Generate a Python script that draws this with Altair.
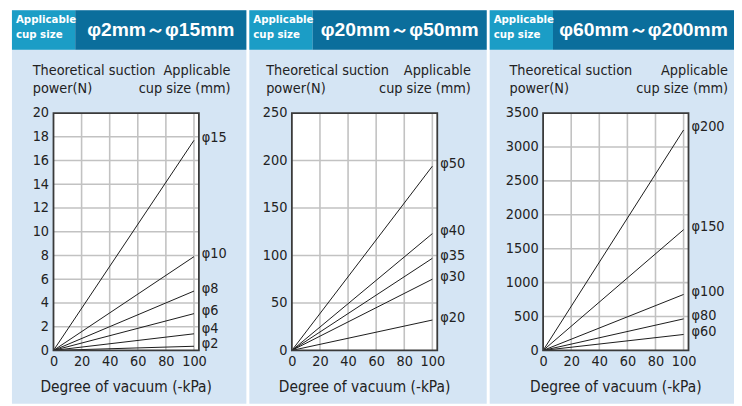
import altair as alt
import pandas as pd

# ---------------- data ----------------
vacuum_start = 0
vacuum_end = 100
vacuum_ticks = [0, 20, 40, 60, 80, 100]

p1_cups = ["φ2", "φ4", "φ6", "φ8", "φ10", "φ15"]
p1_force = [0.35, 1.4, 3.1, 5.0, 7.9, 17.7]
p1_yticks = [0, 2, 4, 6, 8, 10, 12, 14, 16, 18, 20]

p2_cups = ["φ20", "φ30", "φ35", "φ40", "φ50"]
p2_force = [32, 75, 97, 123, 194]
p2_yticks = [0, 50, 100, 150, 200, 250]

p3_cups = ["φ60", "φ80", "φ100", "φ150", "φ200"]
p3_force = [235, 465, 825, 1780, 3250]
p3_yticks = [0, 500, 1000, 1500, 2000, 2500, 3000, 3500]

headers = ["φ2mm～φ15mm", "φ20mm～φ50mm", "φ60mm～φ200mm"]
badge_text = ["Applicable", "cup size"]
ytitle = ["Theoretical suction", "power(N)"]
rtitle = ["Applicable", "cup size (mm)"]
xtitle = "Degree of vacuum (-kPa)"

# ---------------- styling ----------------
FONT = "Liberation Sans Narrow, DejaVu Sans Condensed, sans-serif"
HFONT = "Liberation Sans, Arial, sans-serif"
LIGHT = "#d5e5f4"
TEAL = "#1b9dc6"
DARK = "#0b6e9c"
TXT = "#222222"
W, H = 147, 240
TOP, BOTTOM = -104, 294
HEAD_BOTTOM = -64
TEAL_W = 64
XMAX = 103.5
LABEL_GAP = 15

one = pd.DataFrame({"k": [0]})


def box(x1, x2, y1, y2, color):
    return alt.Chart(one).mark_rect(color=color).encode(
        x=alt.value(x1), x2=alt.value(x2), y=alt.value(y1), y2=alt.value(y2)
    )


def label(txt, x, y, align="left", size=14.5, font=FONT, weight="normal", color=TXT):
    return alt.Chart(one).mark_text(
        text=txt, align=align, baseline="middle", font=font, fontSize=size,
        fontWeight=weight, color=color
    ).encode(x=alt.value(x), y=alt.value(y))


def label_pixels(force, ymax):
    # simple collision avoidance: natural spot just above line end, stacked bottom-up
    nat = [H - f / ymax * H - 2.5 for f in force]
    order = sorted(range(len(force)), key=lambda i: force[i])
    out = nat[:]
    prev = None
    for i in order:
        if prev is not None and out[i] > prev - LABEL_GAP:
            out[i] = prev - LABEL_GAP
        prev = out[i]
    return out


def panel(cups, force, yticks, header, L, R, ytx, rtx):
    ymax = yticks[-1]
    rows = []
    for c, f in zip(cups, force):
        rows.append({"cup": c, "vac": vacuum_start, "force": 0})
        rows.append({"cup": c, "vac": vacuum_end, "force": f})
    lines_df = pd.DataFrame(rows)
    ends_df = pd.DataFrame({"cup": cups, "py": label_pixels(force, ymax)})
    xs = alt.Scale(domain=[0, XMAX], nice=False, zero=True)
    ys = alt.Scale(domain=[0, ymax], nice=False, zero=True)
    xaxis = alt.Axis(
        values=vacuum_ticks, grid=False, ticks=False, domain=False, format="d",
        labelFont=FONT, labelFontSize=14.5, labelColor=TXT, labelPadding=4,
        title=None, zindex=1, labelFlush=False)
    yaxis = alt.Axis(
        values=yticks, grid=False, ticks=False, domain=False, format="d",
        labelFont=FONT, labelFontSize=14.5, labelColor=TXT, labelPadding=5,
        title=None, zindex=1, labelFlush=False)

    layers = [
        box(-L, W + R, TOP, BOTTOM, LIGHT),
        box(-L, -L + TEAL_W, TOP, HEAD_BOTTOM, TEAL),
        box(-L + TEAL_W, W + R, TOP, HEAD_BOTTOM, DARK),
        label(badge_text[0], -L + 4, -94, size=11.5, weight="bold", color="white"),
        label(badge_text[1], -L + 4, -79, size=11.5, weight="bold", color="white"),
        label(header, (-L + TEAL_W + W + R) / 2, -84, align="center", size=19.5,
              font=HFONT, weight="bold", color="white"),
        box(0, W, 0, H, "white"),
        alt.Chart(pd.DataFrame({"g": vacuum_ticks[1:]})).mark_rule(
            color="#c2c2c2", strokeWidth=1.6
        ).encode(x=alt.X("g:Q", scale=xs, axis=xaxis), y=alt.value(0), y2=alt.value(H)),
        alt.Chart(pd.DataFrame({"g": yticks[1:-1]})).mark_rule(
            color="#c2c2c2", strokeWidth=1.6
        ).encode(y=alt.Y("g:Q", scale=ys, axis=yaxis), x=alt.value(0), x2=alt.value(W)),
        alt.Chart(lines_df).mark_line(color="#1a1a1a", strokeWidth=1).encode(
            x=alt.X("vac:Q", scale=xs, axis=xaxis),
            y=alt.Y("force:Q", scale=ys, axis=yaxis),
            detail="cup:N",
        ),
        alt.Chart(one).mark_rect(fillOpacity=0, stroke="#3a3a3a", strokeWidth=1.8).encode(
            x=alt.value(0), x2=alt.value(W), y=alt.value(0), y2=alt.value(H)
        ),
        alt.Chart(ends_df).mark_text(
            align="left", baseline="middle", font=FONT, fontSize=14.5, color=TXT
        ).encode(x=alt.value(W + 3), y=alt.Y("py:Q", scale=None), text="cup:N"),
        label(ytitle[0], ytx, -42),
        label(ytitle[1], ytx, -24),
        label(rtitle[0], rtx, -42, align="right"),
        label(rtitle[1], rtx, -24, align="right"),
        label(xtitle, W / 2, 277, align="center", size=15.5),
    ]
    return alt.layer(*layers).properties(width=W, height=H)


c1 = panel(p1_cups, p1_force, p1_yticks, headers[0], 42, 48, -21, 179)
c2 = panel(p2_cups, p2_force, p2_yticks, headers[1], 43, 50, -26, 181)
c3 = panel(p3_cups, p3_force, p3_yticks, headers[2], 54, 46, -34, 187)

chart = alt.hconcat(c1, c2, c3, spacing=3).properties(
    padding={"left": 4, "top": 0, "right": 0, "bottom": 0},
    background="white",
).configure_view(stroke=None)

chart.save("out.html", embed_options={"renderer": "svg", "actions": False})
